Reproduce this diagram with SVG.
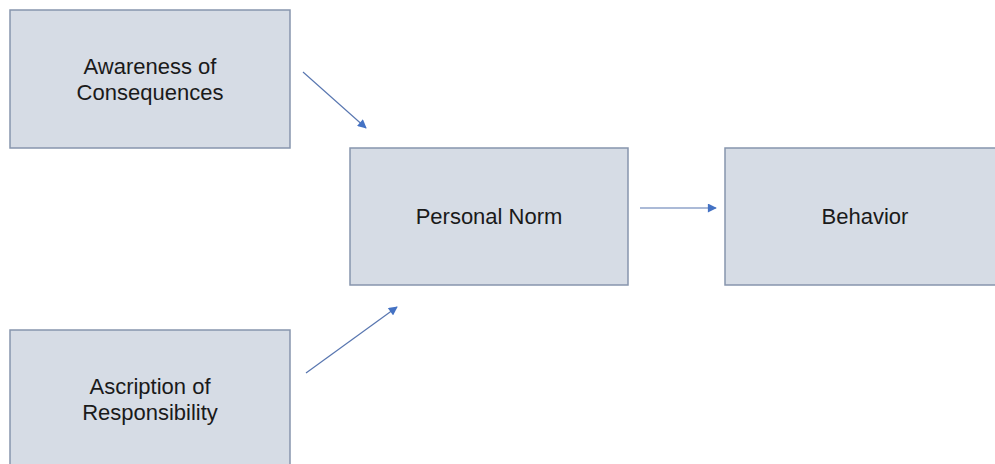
<svg xmlns="http://www.w3.org/2000/svg" width="995" height="464" viewBox="0 0 995 464">
<style>
.box{fill:#d6dce5;stroke:#8795ad;stroke-width:1.5}
.lbl{font-family:"Liberation Sans",Arial,sans-serif;font-size:22px;fill:#1a1a1a;text-anchor:middle}
.conn{stroke:#5876b0;stroke-width:1.2;fill:none;marker-end:url(#ah)}
</style>
<defs>
<marker id="ah" viewBox="0 0 10 10" refX="9" refY="5" markerWidth="10" markerHeight="9" markerUnits="userSpaceOnUse" orient="auto">
<path d="M0,0 L10,5 L0,10 z" fill="#4472c4"/>
</marker>
</defs>
<rect width="995" height="464" fill="#ffffff"/>
<g id="awareness">
<rect class="box" x="10" y="10" width="280" height="138"/>
<text class="lbl" x="150" y="74">Awareness of</text>
<text class="lbl" x="150" y="100">Consequences</text>
</g>
<g id="personal-norm">
<rect class="box" x="350" y="148" width="278" height="137"/>
<text class="lbl" x="489" y="224">Personal Norm</text>
</g>
<g id="behavior">
<rect class="box" x="725" y="148" width="280" height="137"/>
<text class="lbl" x="865" y="224">Behavior</text>
</g>
<g id="ascription">
<rect class="box" x="10" y="330" width="280" height="140"/>
<text class="lbl" x="150" y="394">Ascription of</text>
<text class="lbl" x="150" y="420">Responsibility</text>
</g>
<g id="connectors">
<line class="conn" x1="303" y1="72" x2="366" y2="128"/>
<line class="conn" x1="306" y1="373" x2="397" y2="307"/>
<line class="conn" x1="640" y1="208" x2="716" y2="208"/>
</g>
</svg>
